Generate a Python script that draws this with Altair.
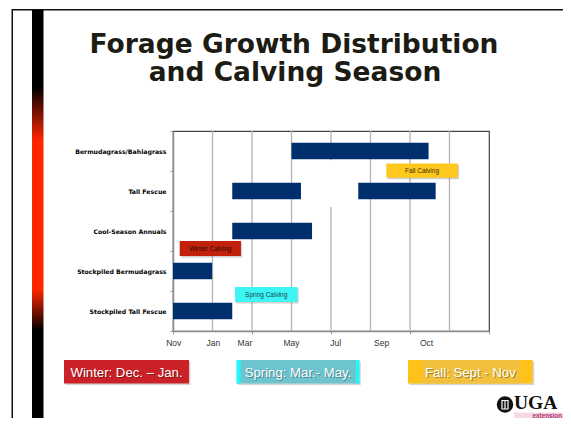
import altair as alt
import pandas as pd

# ---------------- data ----------------
rows = ["Bermudagrass/Bahiagrass", "Tall Fescue", "Cool-Season Annuals",
        "Stockpiled Bermudagrass", "Stockpiled Tall Fescue"]

# forage growth segments (x in 2-month grid units, 0 = Nov)
seg_row = ["Bermudagrass/Bahiagrass", "Tall Fescue", "Tall Fescue",
           "Cool-Season Annuals", "Stockpiled Bermudagrass", "Stockpiled Tall Fescue"]
seg_start = [3.0, 1.5, 4.69, 1.5, 0.0, 0.0]
seg_end = [6.47, 3.24, 6.65, 3.52, 0.99, 1.5]

# x tick labels and where they sit
month_labels = ["Nov", "Jan", "Mar", "May", "Jul", "Sep", "Oct"]
month_pos = [0.02, 1.02, 1.82, 3.0, 4.12, 5.28, 6.42]
grid_vals = [1, 2, 3, 4, 5, 6, 7]
tick_vals = [0, 1, 2, 3, 4, 5, 6, 7, 8]

# calving annotation boxes (x in grid units, y in row units from bottom)
calv_label = ["Fall Calving", "Winter Calving", "Spring Calving"]
calv_x0 = [5.40, 0.17, 1.57]
calv_x1 = [7.21, 1.72, 3.15]
calv_y0 = [3.83, 1.875, 0.725]
calv_y1 = [4.19, 2.25, 1.10]
calv_fill = ["#FFC81E", "#C2210B", "#3DF5F5"]
calv_text = ["#3d3000", "#2a0800", "#15484c"]

# white gap segment in the Tall Fescue row
gap_x0 = [3.26]
gap_x1 = [4.67]
gap_y0 = [3.1]
gap_y1 = [4.27]

season_label = ["Winter: Dec. \u2013 Jan.", "Spring: Mar.- May.", "Fall: Sept - Nov"]
title_lines = ["Forage Growth Distribution", "and Calving Season"]

# ---------------- chart ----------------
W, H = 316, 200
xscale = alt.Scale(domain=[0, 8], nice=False, zero=False)
qy = alt.Scale(domain=[0, 5], nice=False, zero=False)

grid_df = pd.DataFrame({"g": grid_vals})
grid = alt.Chart(grid_df).mark_rule(color="#B3B3B3", strokeWidth=1.3).encode(
    x=alt.X("g:Q", scale=xscale,
            axis=alt.Axis(values=tick_vals, labels=False, title=None, grid=False,
                          ticks=True, tickSize=3, tickColor="#9a9a9a",
                          domainColor="#8c8c8c", domainWidth=1.5)),
)

bars_df = pd.DataFrame({"row": seg_row, "start": seg_start, "end": seg_end})
bars = alt.Chart(bars_df).mark_bar(height=16.5, color="#002F6E").encode(
    x=alt.X("start:Q", scale=xscale, title=None),
    x2="end:Q",
    y=alt.Y("row:N", sort=rows,
            scale=alt.Scale(domain=rows, paddingInner=0, paddingOuter=0),
            axis=alt.Axis(title=None, orient="left", tickBand="extent",
                          labelFont="DejaVu Sans", labelFontWeight="bold",
                          labelFontSize=6.2, labelColor="#000", labelPadding=4,
                          tickSize=3, tickColor="#9a9a9a", domainColor="#8c8c8c",
                          domainWidth=1.5, grid=False, labelLimit=200)),
)

gap_df = pd.DataFrame({"x0": gap_x0, "x1": gap_x1, "y0": gap_y0, "y1": gap_y1})
gap = alt.Chart(gap_df).mark_rect(color="white").encode(
    x=alt.X("x0:Q", scale=xscale, title=None), x2="x1:Q",
    y=alt.Y("y0:Q", scale=qy, axis=None), y2="y1:Q",
)

calv_df = pd.DataFrame({"label": calv_label, "x0": calv_x0, "x1": calv_x1,
                        "y0": calv_y0, "y1": calv_y1, "fill": calv_fill,
                        "tc": calv_text})
calv_base = alt.Chart(calv_df)
calv_shadow = calv_base.mark_rect(color="#777", opacity=0.35, xOffset=1.2, x2Offset=1.2,
                                  yOffset=1.5, y2Offset=1.5).encode(
    x=alt.X("x0:Q", scale=xscale, title=None), x2="x1:Q",
    y=alt.Y("y0:Q", scale=qy, axis=None), y2="y1:Q",
)
calv_box = calv_base.mark_rect().encode(
    x=alt.X("x0:Q", scale=xscale, title=None), x2="x1:Q",
    y=alt.Y("y0:Q", scale=qy, axis=None), y2="y1:Q",
    color=alt.Color("fill:N", scale=None),
)
calv_txt = calv_base.transform_calculate(
    xm="(datum.x0 + datum.x1) / 2", ym="(datum.y0 + datum.y1) / 2"
).mark_text(font="Liberation Sans", fontSize=6.5, baseline="middle", align="center").encode(
    x=alt.X("xm:Q", scale=xscale, title=None),
    y=alt.Y("ym:Q", scale=qy, axis=None),
    text="label:N",
    color=alt.Color("tc:N", scale=None),
)

month_df = pd.DataFrame({"label": month_labels, "pos": month_pos})
months = alt.Chart(month_df).mark_text(font="Liberation Sans", fontSize=8.5, color="#333",
                                       baseline="middle", align="center").encode(
    x=alt.X("pos:Q", scale=xscale, title=None),
    y=alt.value(H + 12),
    text="label:N",
)

# ---------------- slide decorations (pixel layout) ----------------
one = pd.DataFrame({"k": [0]})


def rect(x0, x1, y0, y1, **kw):
    return alt.Chart(one).mark_rect(**kw).encode(
        x=alt.value(x0), x2=alt.value(x1), y=alt.value(y0), y2=alt.value(y1))


def label(x, y, text, **kw):
    return alt.Chart(one).mark_text(text=text, **kw).encode(x=alt.value(x), y=alt.value(y))


bar_grad = alt.Gradient(
    gradient="linear", x1=0, x2=0, y1=0, y2=1,
    stops=[alt.GradientStop(offset=0, color="#000000"),
           alt.GradientStop(offset=0.19, color="#000000"),
           alt.GradientStop(offset=0.32, color="#FF2600"),
           alt.GradientStop(offset=0.685, color="#FF2600"),
           alt.GradientStop(offset=0.785, color="#000000"),
           alt.GradientStop(offset=1, color="#000000")])

deco = [
    rect(-161, 400, -122, -120.6, color="#111"),          # top border
    rect(-161.5, -160, -122, 300, color="#111"),          # left border
    rect(-141, -129.5, -121, 287, color=bar_grad),        # accent bar
]

title_font = dict(font="DejaVu Sans", fontWeight="bold", fontSize=26.5, color="#1c1c14",
                  align="center", baseline="alphabetic")
deco += [label(121, -78, title_lines[0], **title_font),
         label(122, -50, title_lines[1], **title_font)]

# season boxes
box_y0, box_y1 = 229, 252.5
wx0, wx1 = -109, 16
sx0, sx1 = 63.7, 186.3
fx0, fx1 = 235, 359.7
deco += [
    rect(wx0 + 1.5, wx1 + 1.5, box_y0 + 1.5, box_y1 + 1.5, color="#888", opacity=0.35),
    rect(sx0 + 1.5, sx1 + 1.5, box_y0 + 1.5, box_y1 + 1.5, color="#888", opacity=0.35),
    rect(fx0 + 1.5, fx1 + 1.5, box_y0 + 1.5, box_y1 + 1.5, color="#888", opacity=0.35),
    rect(wx0, wx1, box_y0, box_y1, color="#CB2229"),
    rect(sx0, sx1, box_y0, box_y1, color="#6DC4CF"),
    rect(sx0, sx0 + 4, box_y0, box_y1, color="#1EF8F8"),
    rect(sx1 - 3.5, sx1, box_y0, box_y1, color="#1EF8F8"),
    rect(fx0, fx1, box_y0, box_y1, color="#FFC21A"),
    rect(fx0 + 14.5, fx1 - 12.5, box_y0, box_y1, color="#F2C03C"),
]
season_font = dict(font="Liberation Sans", fontSize=13.2, align="center", baseline="middle")
for cx, txt in zip([(wx0 + wx1) / 2, (sx0 + sx1) / 2, (fx0 + fx1) / 2], season_label):
    deco.append(label(cx + 1, 241.5 + 1, txt, color="#000", opacity=0.35, **season_font))
    deco.append(label(cx, 241.5, txt, color="#ffffff", **season_font))

# UGA logo
deco += [
    rect(341, 392, 281.5, 287, color="#F7D9E6"),
    alt.Chart(one).mark_point(shape="circle", filled=True, size=272, color="#111", opacity=1).encode(
        x=alt.value(332), y=alt.value(273.5)),
    rect(329, 335, 269.5, 278, fill=None, stroke="white", strokeWidth=1.2),
    rect(331.4, 332.6, 269.5, 278, color="white"),
    label(341, 278, "UGA", font="Liberation Serif", fontWeight="bold", fontSize=19.5,
          color="#111", align="left", baseline="alphabetic"),
    label(389, 284.6, "extension", font="Liberation Sans", fontWeight="bold", fontSize=6.3,
          color="#B12A68", align="right", baseline="middle"),
]

chart = alt.layer(
    grid, gap, bars, calv_shadow, calv_box, calv_txt, months, *deco
).resolve_scale(y="independent").properties(
    width=W, height=H,
    autosize=alt.AutoSizeParams(type="none"),
    padding={"left": 165, "top": 123, "right": 74, "bottom": 87},
    background="white",
).configure_view(stroke="#444", strokeWidth=1.2)

chart.save("out.html", embed_options={"renderer": "svg", "actions": False})
